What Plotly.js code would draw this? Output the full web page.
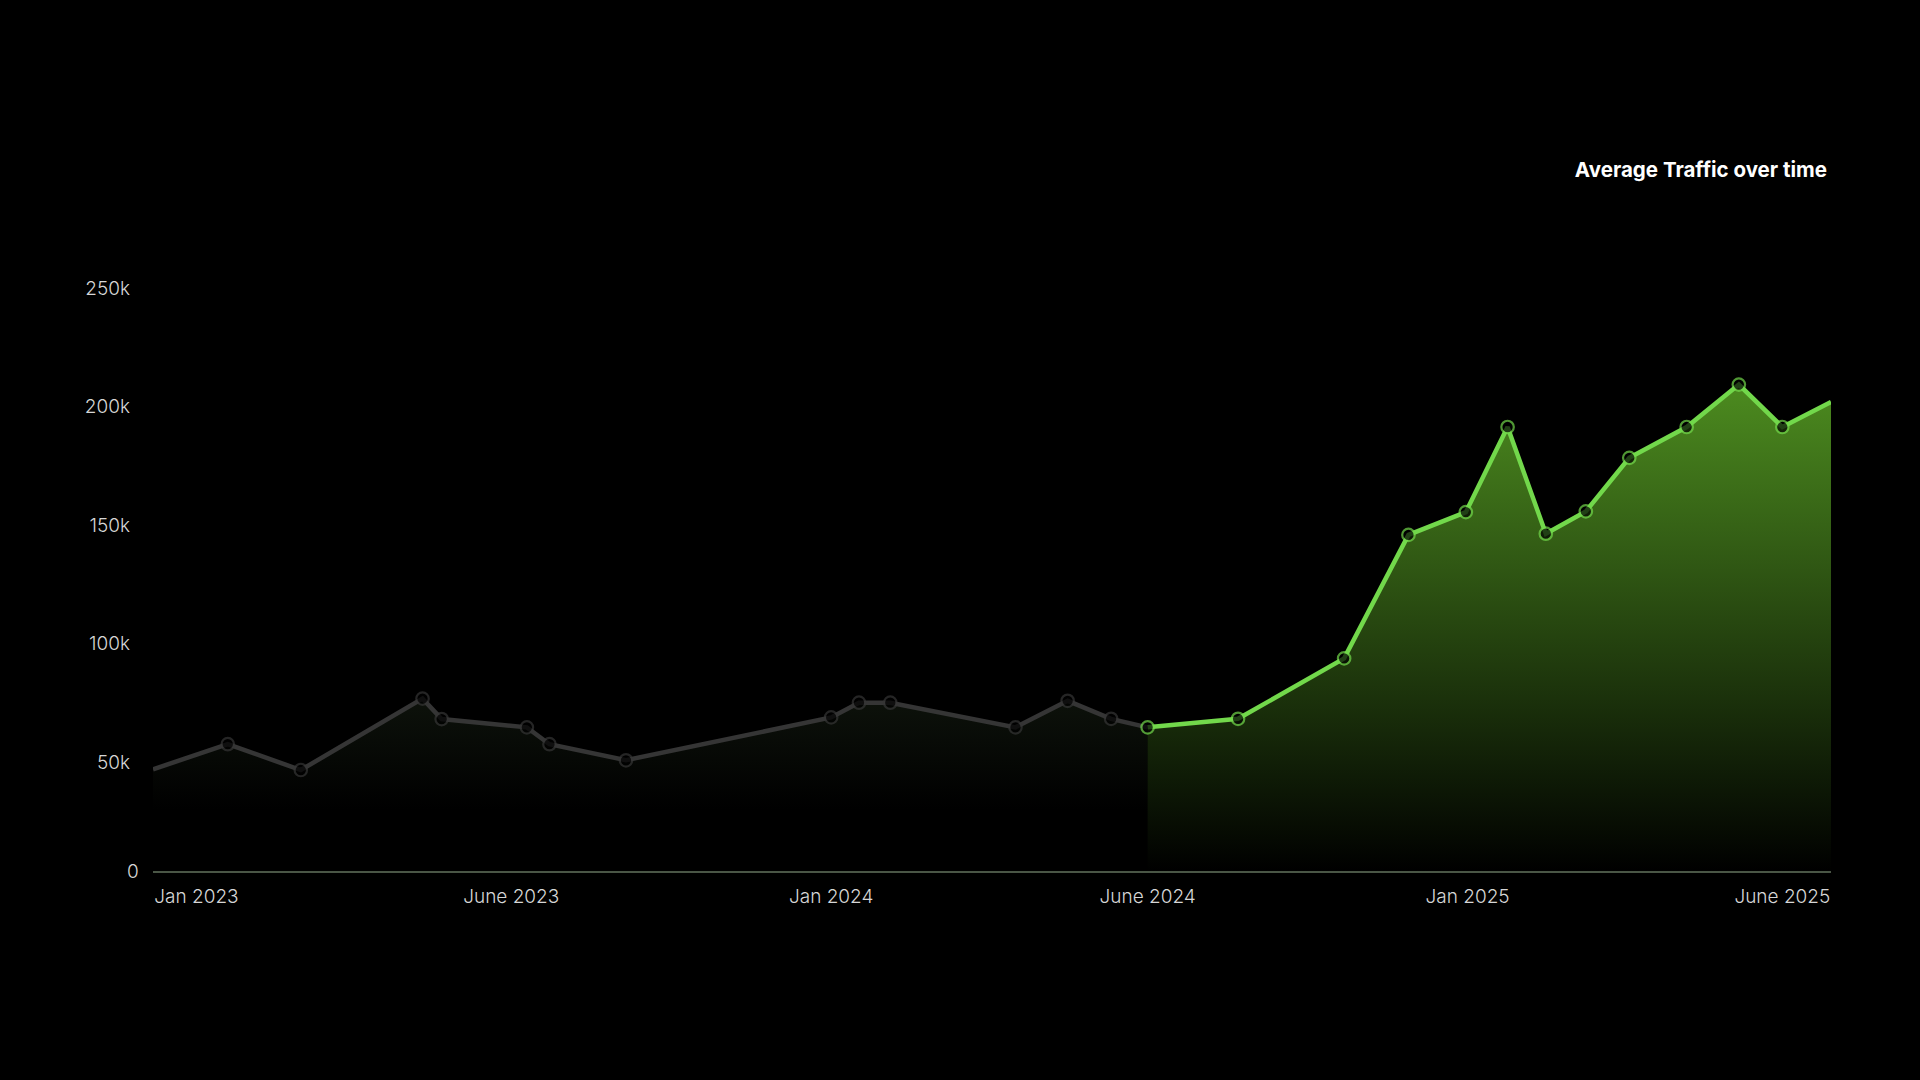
<!DOCTYPE html>
<html>
<head>
<meta charset="utf-8">
<script src="https://cdn.plot.ly/plotly-3.0.1.min.js"></script>
<style>
  html, body { margin: 0; padding: 0; background: #000; }
  #chart { width: 1920px; height: 1080px; }
</style>
</head>
<body>
<div id="chart"></div>
<script>
// ---- Data ----
const grayDates = ['2022-12-07','2023-01-19','2023-03-02','2023-05-11','2023-05-22','2023-07-10','2023-07-23','2023-09-05','2024-01-01','2024-01-17','2024-02-04','2024-04-16','2024-05-16','2024-06-10','2024-07-01'];
const grayValues = [47000,57600,46700,76800,68200,64700,57600,50800,68900,75100,75100,64700,75900,68300,64700];

const greenDates = ['2024-07-01','2024-08-22','2024-10-22','2024-11-28','2024-12-31','2025-01-24','2025-02-15','2025-03-10','2025-04-04','2025-05-07','2025-06-06','2025-07-01','2025-07-29'];
const greenValues = [64700,68300,93800,145900,155500,191400,146400,155800,178400,191400,209300,191400,202000];

const xTickVals = ['2023-01-01','2023-07-01','2024-01-01','2024-07-01','2025-01-01','2025-07-01'];
const xTickText = ['Jan 2023','June 2023','Jan 2024','June 2024','Jan 2025','June 2025'];
const yTickVals = [50000,100000,150000,200000,250000];
const yTickText = ['50k','100k','150k','200k','250k'];
const chartTitle = 'Average Traffic over time';

// ---- Styles ----
const labelFont = { family: 'Inter, Lato, sans-serif', size: 19, color: '#d6d6d6', weight: 300 };
const graySizes = grayDates.map((d, i) => (i === 0 || i === grayDates.length - 1) ? 0 : 12.5);
const greenSizes = greenDates.map((d, i) => (i === greenDates.length - 1) ? 0 : 12.5);

const grayTrace = {
  x: grayDates, y: grayValues, type: 'scatter', mode: 'lines+markers',
  line: { color: '#353535', width: 4.5 },
  marker: { size: graySizes, color: '#000000', line: { color: '#353535', width: 2.2 } },
  fill: 'tozeroy',
  fillgradient: { type: 'vertical', start: 30000, stop: 77000,
    colorscale: [[0, 'rgba(0,0,0,1)'], [1, 'rgba(13,18,11,1)']] },
  hoverinfo: 'skip', showlegend: false
};

const greenTrace = {
  x: greenDates, y: greenValues, type: 'scatter', mode: 'lines+markers',
  line: { color: '#72d84b', width: 4.5 },
  marker: { size: greenSizes, color: '#000000', line: { color: '#72d84b', width: 2.2 } },
  fill: 'tozeroy',
  fillgradient: { type: 'vertical', start: 4100, stop: 209300,
    colorscale: [[0, 'rgba(0,0,0,1)'], [1, 'rgba(76,139,31,1)']] },
  hoverinfo: 'skip', showlegend: false
};

const layout = {
  width: 1920, height: 1080,
  paper_bgcolor: '#000000', plot_bgcolor: '#000000',
  margin: { l: 153, r: 89, t: 240, b: 209 },
  title: {
    text: chartTitle,
    font: { family: 'Inter, "Open Sans", sans-serif', size: 20.5, color: '#ffffff', weight: 700 },
    xref: 'container', yref: 'container',
    x: 1827 / 1920, xanchor: 'right',
    y: 1 - 170 / 1080, yanchor: 'middle'
  },
  xaxis: {
    type: 'date',
    range: ['2022-12-07', '2025-07-29'],
    tickvals: xTickVals, ticktext: xTickText,
    showgrid: false, zeroline: false,
    showline: true, linecolor: '#4a5646', linewidth: 2,
    ticks: '', ticklabelstandoff: 7,
    tickfont: labelFont
  },
  yaxis: {
    range: [4100, 270300],
    tickvals: yTickVals, ticktext: yTickText,
    showgrid: false, zeroline: false, showline: false,
    ticks: '', ticklabelstandoff: 22,
    tickfont: labelFont
  },
  annotations: [{
    text: '0', xref: 'paper', yref: 'y', x: 0, y: 4100,
    xanchor: 'right', yanchor: 'middle', xshift: -12,
    showarrow: false, font: labelFont
  }]
};

Plotly.newPlot('chart', [grayTrace, greenTrace], layout, { displayModeBar: false, staticPlot: true });
</script>
</body>
</html>
